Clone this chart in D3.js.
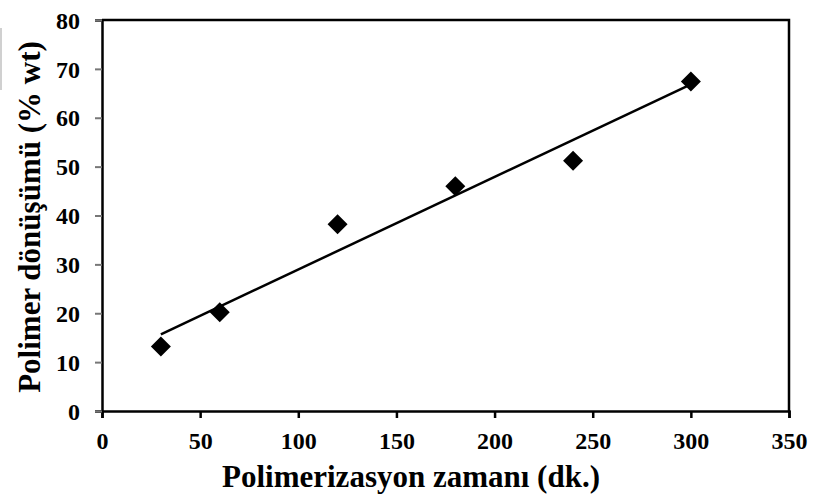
<!DOCTYPE html>
<html>
<head>
<meta charset="utf-8">
<script src="https://cdn.jsdelivr.net/npm/d3@7"></script>
<style>
  body { margin: 0; background: #fff; }
</style>
</head>
<body>
<main></main>
<script>
// polymerization time (min) vs. conversion (% wt)
const times = [30, 60, 120, 180, 240, 300];
const conversion = [13.2, 20.2, 38.2, 46.0, 51.2, 67.4];
const xTicks = [0, 50, 100, 150, 200, 250, 300, 350];
const yTicks = [0, 10, 20, 30, 40, 50, 60, 70, 80];

const FONT = "'Liberation Serif', 'Times New Roman', serif";

const w = 813;
const h = 499;
const margin = {left: 102, top: 20, right: 24, bottom: 88};
const width = w - margin.left - margin.right;
const height = h - margin.top - margin.bottom;

const xScale = d3.scaleLinear().domain([0, 350]).range([0, width]);
const yScale = d3.scaleLinear().domain([0, 80]).range([height, 0]);

const svg = d3.select('main').append('svg')
  .attr('width', w)
  .attr('height', h);

// faint edge left over from the original crop
svg.append('line')
  .attr('x1', 1).attr('x2', 1).attr('y1', 28).attr('y2', 90)
  .attr('stroke', '#d0d0d0').attr('stroke-width', 2);

const g = svg.append('g')
  .attr('transform', `translate(${margin.left}, ${margin.top})`);

// frame (top and right)
g.append('path')
  .attr('d', `M0,0H${width}V${height}`)
  .attr('fill', 'none')
  .attr('stroke', '#000')
  .attr('stroke-width', 2.5);

const xAxis = g.append('g')
  .attr('transform', `translate(0, ${height})`)
  .call(d3.axisBottom(xScale).tickValues(xTicks).tickSize(7));

const yAxis = g.append('g')
  .call(d3.axisLeft(yScale).tickValues(yTicks).tickSize(7));

[xAxis, yAxis].forEach(ax => {
  ax.attr('font-family', FONT).attr('font-size', 24).attr('font-weight', 'bold');
  ax.select('.domain').attr('stroke', '#000').attr('stroke-width', 2.5);
  ax.selectAll('text').attr('fill', '#000');
});
xAxis.selectAll('.tick line').attr('stroke', '#000').attr('stroke-width', 2.5);
xAxis.selectAll('text').attr('y', 38).attr('dy', 0);
yAxis.selectAll('.tick line').attr('stroke', '#777').attr('stroke-width', 2);
yAxis.selectAll('text').attr('x', -22).attr('dy', '0.34em');

// linear trendline from the points
const mx = d3.mean(times);
const my = d3.mean(conversion);
const slope = d3.sum(times, (t, i) => (t - mx) * (conversion[i] - my)) / d3.sum(times, t => (t - mx) ** 2);
const icpt = my - slope * mx;
const ends = [d3.min(times), d3.max(times)];

g.append('path')
  .datum(ends)
  .attr('d', d3.line().x(t => xScale(t)).y(t => yScale(icpt + slope * t)))
  .attr('fill', 'none')
  .attr('stroke', '#000')
  .attr('stroke-width', 2.5);

const diamond = 'M0,-10L10,0L0,10L-10,0Z';
g.selectAll('.pt')
  .data(times)
  .enter()
  .append('path')
  .attr('class', 'pt')
  .attr('d', diamond)
  .attr('transform', (t, i) => `translate(${xScale(t)}, ${yScale(conversion[i])})`)
  .attr('fill', '#000');

svg.append('text')
  .attr('x', 411)
  .attr('y', 487)
  .attr('text-anchor', 'middle')
  .attr('font-family', FONT)
  .attr('font-weight', 'bold')
  .attr('font-size', 31)
  .text('Polimerizasyon zamanı (dk.)');

svg.append('text')
  .attr('transform', 'translate(40, 217) rotate(-90)')
  .attr('text-anchor', 'middle')
  .attr('font-family', FONT)
  .attr('font-weight', 'bold')
  .attr('font-size', 31)
  .text('Polimer dönüşümü (% wt)');
</script>
</body>
</html>
